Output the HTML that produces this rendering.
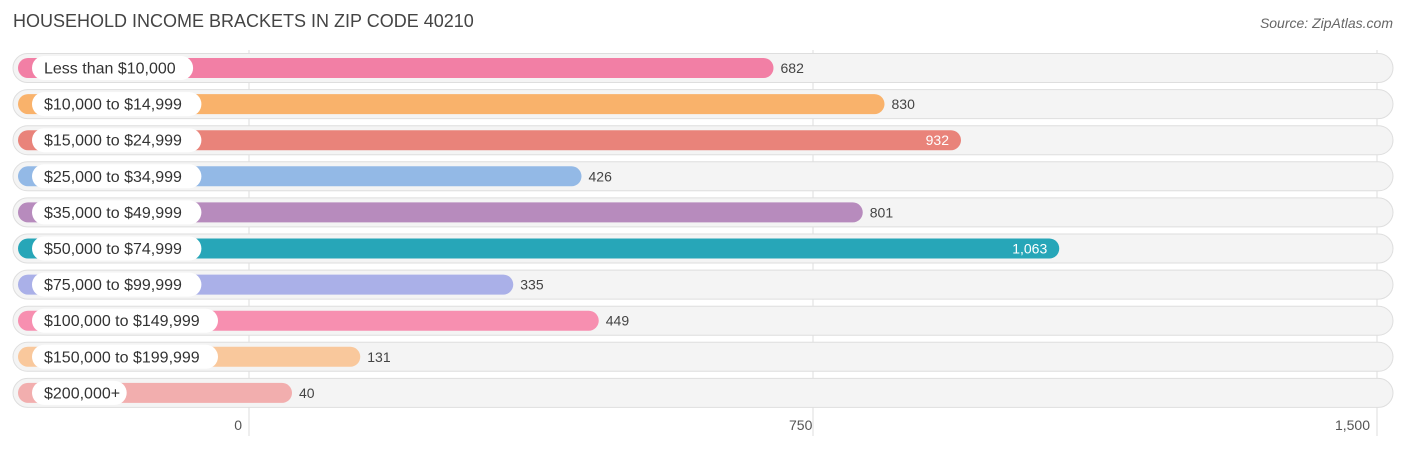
<!DOCTYPE html>
<html><head><meta charset="utf-8"><style>
body{margin:0;background:#fff;font-family:"Liberation Sans",sans-serif;}
svg text{font-family:"Liberation Sans",sans-serif;}
</style></head><body>
<svg id="chart" width="1406" height="449" xmlns="http://www.w3.org/2000/svg">
<text x="13" y="27" font-size="18" fill="#444">HOUSEHOLD INCOME BRACKETS IN ZIP CODE 40210</text>
<text x="1393" y="28" font-size="14" font-style="italic" fill="#666" text-anchor="end">Source: ZipAtlas.com</text>
<g id="grid"></g><g id="rows"></g><g id="ticks"></g>
</svg>
<script>
const categories=["Less than $10,000","$10,000 to $14,999","$15,000 to $24,999","$25,000 to $34,999","$35,000 to $49,999","$50,000 to $74,999","$75,000 to $99,999","$100,000 to $149,999","$150,000 to $199,999","$200,000+"];
const values=[682,830,932,426,801,1063,335,449,131,40];
const colors=["#f27fa5","#f9b26b","#e9837a","#93b9e6","#b78bbd","#27a6b8","#aab0e8","#f78fb0","#f9c89c","#f2aeae"];
const tickValues=[0,750,1500];
const tickLabels=["0","750","1,500"];
const NS="http://www.w3.org/2000/svg";
const x=v=>249+v*0.752;
const barEnd=v=>262+v*0.75;
const rowY=i=>68+i*36.1;
function mk(tag,attrs,parent){const e=document.createElementNS(NS,tag);for(const k in attrs)e.setAttribute(k,attrs[k]);parent.appendChild(e);return e;}
const grid=document.getElementById('grid'),rows=document.getElementById('rows'),ticks=document.getElementById('ticks');
tickValues.forEach((t,i)=>{
  const l=mk('line',{x1:x(t),x2:x(t),y1:50,y2:436,stroke:'#ddd','stroke-width':1},grid);
  
  
  const tx=mk('text',{x:x(t)-(i==0?7:i==2?7:20),y:430,'font-size':14,fill:'#555','text-anchor':i==1?'start':'end'},ticks);
  if(i==1){tx.setAttribute('x',x(t)-24);}
  tx.textContent=tickLabels[i];
  
  
});
categories.forEach((c,i)=>{
  const cy=rowY(i);
  const g=mk('g',{},rows);
  
  
  const tr=mk('rect',{x:13,y:cy-14.5,width:1380,height:29,rx:14.5,fill:'#f4f4f4',stroke:'#dedede','stroke-width':1},g);
  
  
  const e=barEnd(values[i]);
  const b=mk('rect',{x:18,y:cy-10,width:e-18,height:20,rx:10,fill:colors[i]},g);
  
  
  const lw=c.length*8.3+20;
  const p=mk('rect',{x:32,y:cy-12,width:lw,height:24,rx:12,fill:'#fff'},g);
  
  
  const lt=mk('text',{x:44,y:cy+5.5,'font-size':16,fill:'#333'},g);
  lt.textContent=c;
  
  
  const inside=values[i]>900;
  const vt=mk('text',{x:inside?e-12:e+7,y:cy+5,'font-size':14,fill:inside?'#fff':'#444','text-anchor':inside?'end':'start'},g);
  vt.textContent=values[i].toLocaleString('en-US');
  
  
});
</script>
</body></html>
